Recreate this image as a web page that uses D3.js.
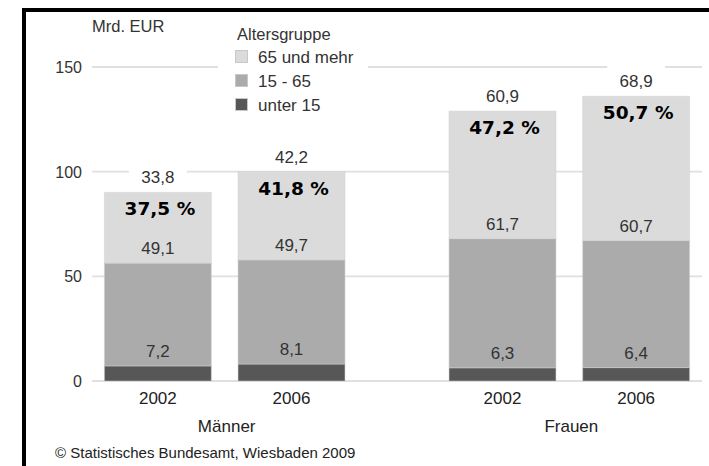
<!DOCTYPE html>
<html lang="de">
<head>
    <meta charset="UTF-8">
    <title>Altersgruppen Männer / Frauen</title>
    <script src="https://d3js.org/d3.v7.min.js"></script>
    <style>
        body { margin: 0; background: #fff; }
        text { font-family: "Liberation Sans", Arial, sans-serif; }
        text.share { font-family: "DejaVu Sans", Verdana, sans-serif; font-weight: bold; }
    </style>
</head>
<body>
    <div id="chart"></div>

    <script>
        // values (Mrd. EUR)
        const groups = ["Männer", "Frauen"];
        const years = ["2002", "2006"];
        const ageKeys = ["unter 15", "15 - 65", "65 und mehr"];
        const under15 = [7.2, 8.1, 6.3, 6.4];
        const mid = [49.1, 49.7, 61.7, 60.7];
        const over65 = [33.8, 42.2, 60.9, 68.9];
        const shareLabels = ["37,5 %", "41,8 %", "47,2 %", "50,7 %"];
        const yTicks = [0, 50, 100, 150];

        const width = 709, height = 466;
        const colors = { "unter 15": "#575757", "15 - 65": "#ababab", "65 und mehr": "#dbdbdb" };

        const rows = [];
        groups.forEach((g, gi) => {
            years.forEach((yr, yi) => {
                const i = gi * years.length + yi;
                rows.push({ group: g, year: yr, "unter 15": under15[i], "15 - 65": mid[i], "65 und mehr": over65[i], share: shareLabels[i] });
            });
        });

        const svg = d3.select("#chart").append("svg")
            .attr("width", width)
            .attr("height", height);

        // frame: top + left black line
        svg.append("rect").attr("x", 22).attr("y", 8).attr("width", width - 22).attr("height", 4).attr("fill", "#000");
        svg.append("rect").attr("x", 22).attr("y", 8).attr("width", 4).attr("height", height - 8).attr("fill", "#000");

        const y = d3.scaleLinear().domain([0, 150]).range([381, 67]);

        const x0 = d3.scaleBand().domain(groups).range([92, 702])
            .paddingInner(0.302).paddingOuter(0.036);
        const x1 = d3.scaleBand().domain(years).range([0, x0.bandwidth()])
            .paddingInner(0.2);

        // gridlines + tick labels
        svg.append("g").selectAll("line")
            .data(yTicks)
            .join("line")
            .attr("x1", 92).attr("x2", 702)
            .attr("y1", d => y(d)).attr("y2", d => y(d))
            .attr("stroke", "#e0e0e0")
            .attr("stroke-width", 1.8);

        svg.append("g").selectAll("text")
            .data(yTicks)
            .join("text")
            .attr("x", 82)
            .attr("y", d => y(d) + 6)
            .attr("text-anchor", "end")
            .attr("font-size", 16)
            .attr("fill", "#333")
            .text(d => d);

        svg.append("text")
            .attr("x", 92).attr("y", 32)
            .attr("font-size", 16.5)
            .attr("fill", "#333")
            .text("Mrd. EUR");

        const stacked = d3.stack().keys(ageKeys)(rows);
        const barX = d => x0(d.data.group) + x1(d.data.year);

        svg.append("g").selectAll("g")
            .data(stacked)
            .join("g")
            .attr("fill", d => colors[d.key])
            .selectAll("rect")
            .data(d => d)
            .join("rect")
            .attr("x", barX)
            .attr("y", d => y(d[1]))
            .attr("width", x1.bandwidth())
            .attr("height", d => y(d[0]) - y(d[1]))
            .attr("stroke", "#d0d0d0")
            .attr("stroke-opacity", 0.5)
            .attr("stroke-width", 1);

        // value labels, sitting just above each segment
        const labelLayer = svg.append("g");
        stacked.forEach(layer => {
            layer.forEach(d => {
                const cx = barX(d) + x1.bandwidth() / 2;
                const by = y(d[1]) - 9;
                const txt = d3.format(".1f")(d.data[layer.key]).replace(".", ",");
                if (layer.key === "65 und mehr") {
                    labelLayer.append("rect")
                        .attr("x", cx - 29).attr("y", by - 22)
                        .attr("width", 58).attr("height", 28)
                        .attr("fill", "#fff");
                }
                labelLayer.append("text")
                    .attr("x", cx).attr("y", by)
                    .attr("text-anchor", "middle")
                    .attr("font-size", 17)
                    .attr("fill", "#333")
                    .text(txt);
            });
        });

        // share of 65+ inside the top segment
        const topLayer = stacked[stacked.length - 1];
        svg.append("g").selectAll("text")
            .data(topLayer)
            .join("text")
            .attr("class", "share")
            .attr("x", d => barX(d) + x1.bandwidth() / 2 + 2)
            .attr("y", d => y(d[1]) + 23)
            .attr("text-anchor", "middle")
            .attr("font-size", 18.5)
            .attr("fill", "#000")
            .text(d => d.data.share);

        // x axis labels
        svg.append("g").selectAll("text")
            .data(rows)
            .join("text")
            .attr("x", d => x0(d.group) + x1(d.year) + x1.bandwidth() / 2)
            .attr("y", 404)
            .attr("text-anchor", "middle")
            .attr("font-size", 17)
            .attr("fill", "#222")
            .text(d => d.year);

        svg.append("g").selectAll("text")
            .data(groups)
            .join("text")
            .attr("x", d => x0(d) + x0.bandwidth() / 2 + 2)
            .attr("y", 432)
            .attr("text-anchor", "middle")
            .attr("font-size", 17)
            .attr("fill", "#222")
            .text(d => d);

        svg.append("text")
            .attr("x", 55).attr("y", 458)
            .attr("font-size", 15)
            .attr("fill", "#222")
            .text("© Statistisches Bundesamt, Wiesbaden 2009");

        // legend
        const legend = svg.append("g");
        legend.append("rect")
            .attr("x", 218).attr("y", 20).attr("width", 150).attr("height", 98)
            .attr("fill", "#fff");
        legend.append("text")
            .attr("x", 237).attr("y", 40)
            .attr("font-size", 16.5)
            .attr("fill", "#333")
            .text("Altersgruppe");
        const legendKeys = ageKeys.slice().reverse();
        legend.selectAll("rect.sw")
            .data(legendKeys)
            .join("rect")
            .attr("class", "sw")
            .attr("x", 235.5)
            .attr("y", (d, i) => 50.5 + i * 24)
            .attr("width", 12).attr("height", 12)
            .attr("fill", d => colors[d])
            .attr("stroke", "#c8c8c8")
            .attr("stroke-width", 1);
        legend.selectAll("text.lb")
            .data(legendKeys)
            .join("text")
            .attr("class", "lb")
            .attr("x", 258)
            .attr("y", (d, i) => 63 + i * 24)
            .attr("font-size", 17)
            .attr("fill", "#333")
            .text(d => d);
    </script>
</body>
</html>
